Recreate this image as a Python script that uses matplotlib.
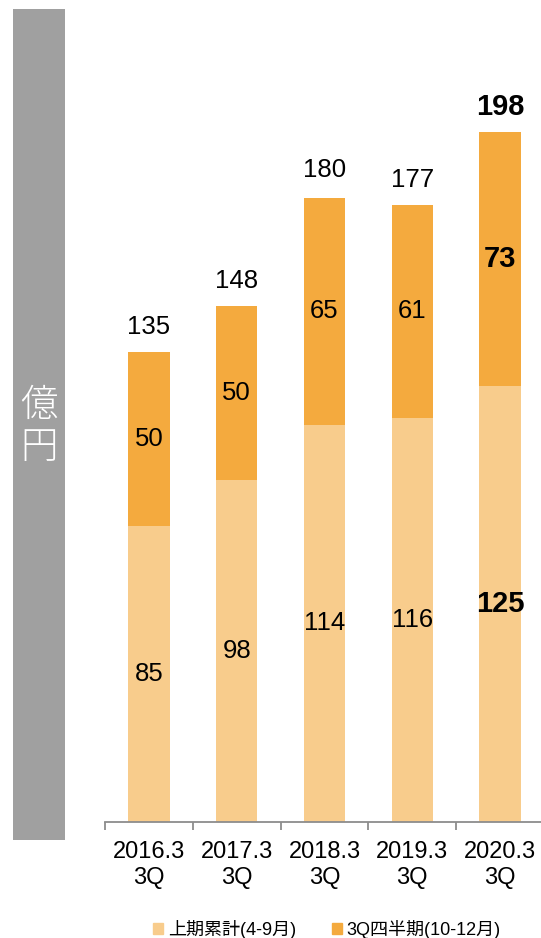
import matplotlib
matplotlib.use("Agg")
import matplotlib.pyplot as plt
import numpy as np
from matplotlib.patches import Patch

plt.rcParams['font.family'] = ['Liberation Sans', 'Noto Sans CJK JP', 'DejaVu Sans']

periods = ["2016.3\n3Q", "2017.3\n3Q", "2018.3\n3Q", "2019.3\n3Q", "2020.3\n3Q"]
first_half = [85, 98, 114, 116, 125]
third_q = [50, 50, 65, 61, 73]
totals = [135, 148, 180, 177, 198]
legend_labels = ["上期累計(4-9月)", "3Q四半期(10-12月)"]

light = "#F8CC8C"
dark = "#F4AA3E"

W, H = 541, 938
fig = plt.figure(figsize=(W / 100, H / 100), dpi=100)

# grey unit strip on the left
side = fig.add_axes([13 / W, 1 - 840 / H, 52 / W, 831 / H])
side.set_facecolor("#A0A0A0")
side.set_xticks([])
side.set_yticks([])
for s in side.spines.values():
    s.set_visible(False)
side.text(0.5, 1 - (426 - 9) / 831, "億\n円", transform=side.transAxes, ha="center", va="center",
          color="white", fontsize=27, family=["Noto Sans CJK JP"], fontweight="light", linespacing=1.1)

# main stacked bars
px_per_unit = 690 / 198
ax = fig.add_axes([105 / W, 1 - 822 / H, 439 / W, 813 / H])
x = np.arange(len(periods))
bw = 0.47
ax.bar(x, first_half, bw, color=light)
ax.bar(x, third_q, bw, bottom=first_half, color=dark)
ax.set_xlim(-0.5, len(periods) - 0.5)
ax.set_ylim(0, 813 / px_per_unit)

last = len(periods) - 1
for i in x:
    big = i == last
    fs = 21 if big else 18.5
    fw = "bold" if big else "normal"
    ax.text(i, first_half[i] / 2, str(first_half[i]), ha="center", va="center", fontsize=fs, fontweight=fw)
    ax.text(i, first_half[i] + third_q[i] / 2, str(third_q[i]), ha="center", va="center", fontsize=fs, fontweight=fw)
    ax.annotate(str(totals[i]), (i, totals[i]), xytext=(0, 18), textcoords="offset points",
                ha="center", va="center", fontsize=fs, fontweight=fw)

for s in ["top", "left", "right"]:
    ax.spines[s].set_visible(False)
ax.spines["bottom"].set_color("#8C8C8C")
ax.spines["bottom"].set_linewidth(1.3)
ax.set_yticks([])
ax.set_xticks(x)
ax.set_xticklabels(periods, fontsize=17, linespacing=1.2)
ax.tick_params(axis="x", which="major", length=0, pad=14)
ax.set_xticks(np.arange(-0.5, len(periods), 1.0), minor=True)
ax.tick_params(axis="x", which="minor", length=5.5, width=1.3, color="#8C8C8C", direction="out")

handles = [Patch(color=light), Patch(color=dark)]
fig.legend(handles, legend_labels, loc="center", bbox_to_anchor=(327 / W, 1 - 929 / H), ncol=2,
           frameon=False, fontsize=13, handlelength=0.55, handleheight=0.55, handletextpad=0.25,
           columnspacing=2.0)

fig.savefig("out.png", dpi=100)
